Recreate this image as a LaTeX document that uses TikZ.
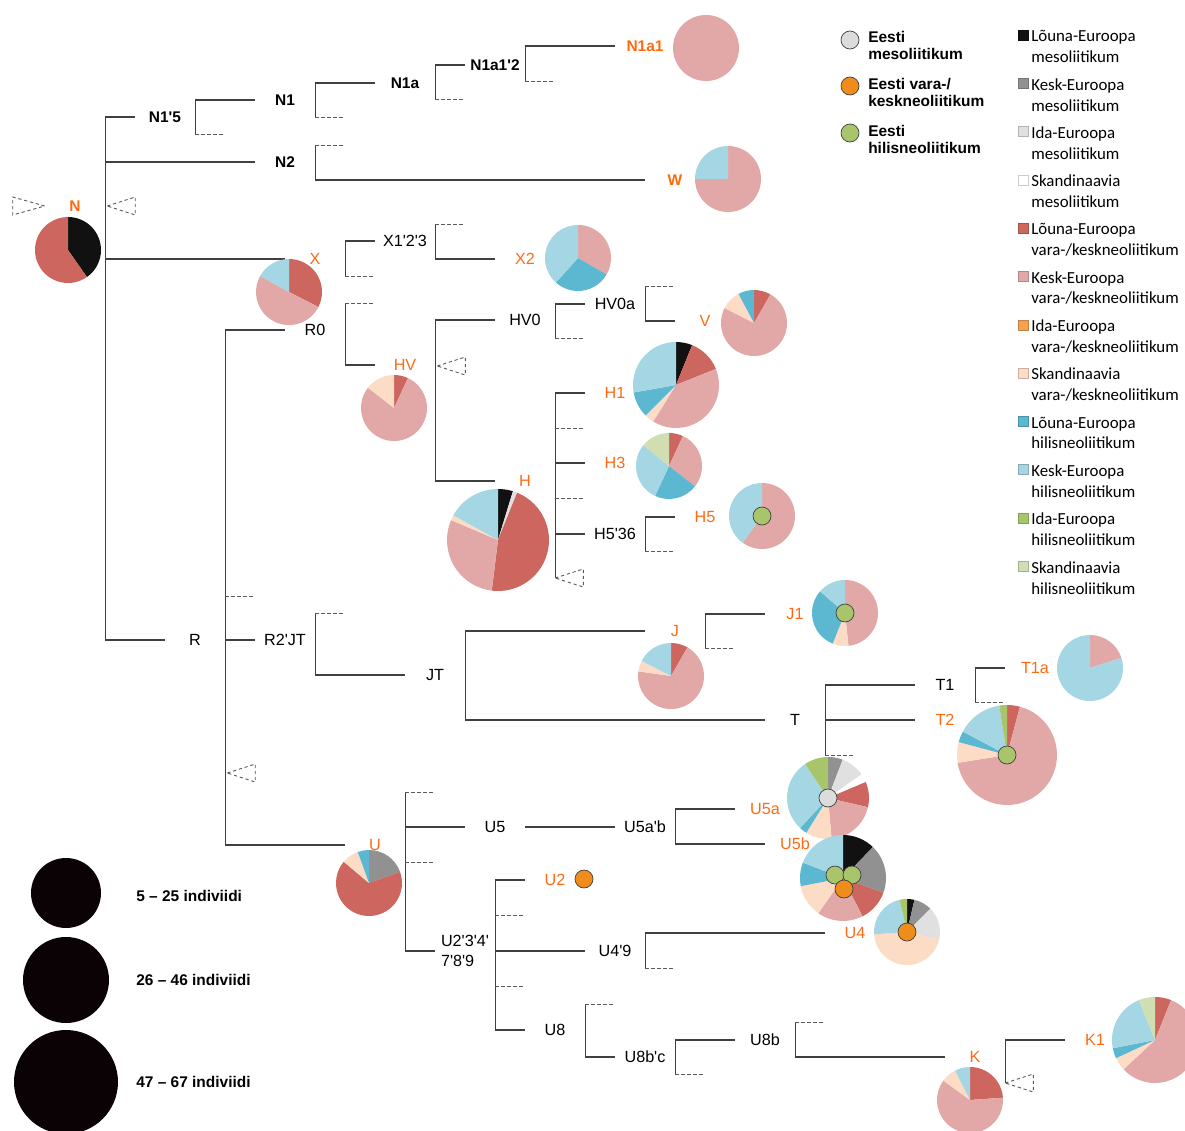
\documentclass[tikz,border=0pt]{standalone}
\usepackage{fontspec}
\newfontfamily\hgfont{Liberation Sans}
\newfontfamily\keyfont{Carlito}
\usetikzlibrary{calc}

\definecolor{cblack}{HTML}{111111}
\definecolor{cgray}{HTML}{919191}
\definecolor{clgray}{HTML}{E0E0E0}
\definecolor{cred}{HTML}{CC665F}
\definecolor{cpink}{HTML}{E2A8A7}
\definecolor{corange}{HTML}{F4A252}
\definecolor{cbeige}{HTML}{FCDCC4}
\definecolor{cdblue}{HTML}{5CB8D0}
\definecolor{clblue}{HTML}{A5D6E3}
\definecolor{cgreen}{HTML}{A9C56C}
\definecolor{csage}{HTML}{D0DEB1}
\definecolor{cmeso}{HTML}{DCDCDC}
\definecolor{cdotorange}{HTML}{F08C1C}
\definecolor{hgorange}{HTML}{FF6A10}
\definecolor{brgray}{HTML}{404040}
\definecolor{stubgray}{HTML}{5A5A5A}
\definecolor{sizeblack}{HTML}{0A0204}

\tikzset{
  hg/.style={minimum width=1.5cm, inner sep=0pt, text height=8pt, text depth=0pt,
    font=\hgfont\fontsize{11.5}{13}\selectfont},
  hgb/.style={hg, font=\hgfont\bfseries\fontsize{11}{13}\selectfont},
  hgo/.style={hg, text=hgorange},
  hgob/.style={hgb, text=hgorange},
  hgtwo/.style={minimum width=1.5cm, inner sep=0pt, align=left,
    font=\hgfont\fontsize{11.5}{14}\selectfont},
  br/.style={draw=brgray, line width=0.8pt},
  stub/.style={draw=stubgray, line width=0.65pt, dash pattern=on 2.3pt off 2pt},
  edot/.style={draw=black!75, line width=0.5pt},
  keytext/.style={anchor=west, align=left, inner sep=0pt,
    font=\keyfont\fontsize{12}{14.9}\selectfont},
  eesti/.style={anchor=west, align=left, inner sep=0pt,
    font=\hgfont\bfseries\fontsize{11}{12}\selectfont},
  sizetext/.style={anchor=west, inner sep=0pt,
    font=\hgfont\bfseries\fontsize{11}{13}\selectfont},
}

% pie: centre, radius, slices from/to/colour (clockwise, degrees)
\newcommand{\drawpie}[3]{%
  \foreach \pa/\pb/\pc in {#3}
    \fill[fill=\pc] (#1) -- ++({0-(\pa)}:#2)
      arc[start angle={0-(\pa)}, end angle={0-(\pb)}, radius=#2] -- cycle;%
}
\newcommand{\collapsed}[1]{\draw[stub] (#1) -- ++(28,-9) -- ++(0,18) -- cycle;}
\newcommand{\edot}[2]{\filldraw[edot, fill=#2] (#1) circle[radius=9];}

\begin{document}
\begin{tikzpicture}[x=0.025cm, y=-0.025cm]
  \useasboundingbox (0,0) rectangle (1185,1131);
  \clip (0,0) rectangle (1185,1131);

  % haplogroup labels
  \node[hgob] (N) at (75,206) {N};
  \node[hgb] (N15) at (165,117) {N1'5};
  \node[hgb] (N1) at (285,100) {N1};
  \node[hgb] (N1a) at (405,83) {N1a};
  \node[hgb] (N1a12) at (495,65) {N1a1'2};
  \node[hgob] (N1a1) at (645,46) {N1a1};
  \node[hgb] (N2) at (285,162) {N2};
  \node[hgob] (W) at (675,180) {W};
  \node[hgo] (X) at (315,259) {X};
  \node[hg] (X123) at (405,241) {X1'2'3};
  \node[hgo] (X2) at (525,259) {X2};
  \node[hg] (R) at (195,640) {R};
  \node[hg] (R0) at (315,330) {R0};
  \node[hgo] (HV) at (405,365) {HV};
  \node[hg] (HV0) at (525,320) {HV0};
  \node[hg] (HV0a) at (615,304) {HV0a};
  \node[hgo] (V) at (705,321) {V};
  \node[hgo] (H) at (525,481) {H};
  \node[hgo] (H1) at (615,393) {H1};
  \node[hgo] (H3) at (615,463) {H3};
  \node[hg] (H536) at (615,534) {H5'36};
  \node[hgo] (H5) at (705,517) {H5};
  \node[hg] (R2JT) at (285,640) {R2'JT};
  \node[hg] (JT) at (435,675) {JT};
  \node[hgo] (J) at (675,631) {J};
  \node[hgo] (J1) at (795,614) {J1};
  \node[hg] (T) at (795,720) {T};
  \node[hg] (T1) at (945,685) {T1};
  \node[hgo] (T1a) at (1035,668) {T1a};
  \node[hgo] (T2) at (945,720) {T2};
  \node[hgo] (U) at (375,845) {U};
  \node[hg] (U5) at (495,827) {U5};
  \node[hg] (U5ab) at (645,827) {U5a'b};
  \node[hgo] (U5a) at (765,809) {U5a};
  \node[hgo] (U5b) at (795,844) {U5b};
  \node[hgtwo] (U2x) at (465,951) {U2'3'4'\\7'8'9};
  \node[hgo] (U2) at (555,880) {U2};
  \node[hg] (U49) at (615,951) {U4'9};
  \node[hgo] (U4) at (855,933) {U4};
  \node[hg] (U8) at (555,1030) {U8};
  \node[hg] (U8bc) at (645,1057) {U8b'c};
  \node[hg] (U8b) at (765,1040) {U8b};
  \node[hgo] (K) at (975,1057) {K};
  \node[hgo] (K1) at (1095,1040) {K1};

  % N
  \draw[br] (N15.west) -| (N.east) |- (R.west);
  \draw[br] (N.east |- N2.west) -- (N2.west);
  \draw[br] (N.east |- X.west) -- (X.west);
  \collapsed{$(N.east)+(2,0)$}
  \draw[stub] (N.west) -- ++(-32,-9) -- ++(0,18) -- cycle;
  % N1'5
  \draw[br] (N1.west) -| (N15.east) -- ++(0,17) coordinate (N15s);
  \draw[stub] (N15s) -- ++(30,0);
  % N1
  \draw[br] (N1a.west) -| (N1.east) -- ++(0,17) coordinate (N1s);
  \draw[stub] (N1s) -- ++(30,0);
  % N1a
  \draw[br] (N1a12.west) -| (N1a.east) -- ++(0,16) coordinate (N1as);
  \draw[stub] (N1as) -- ++(30,0);
  % N1a1'2
  \draw[br] (N1a1.west) -| (N1a12.east) -- ++(0,16) coordinate (N1a12s);
  \draw[stub] (N1a12s) -- ++(30,0);
  % N2
  \draw[br] (W.west) -| (N2.east) -- ++(0,-17) coordinate (N2s);
  \draw[stub] (N2s) -- ++(30,0);
  % X
  \draw[br] (X123.west) -| (X.east) -- ++(0,17) coordinate (Xs);
  \draw[stub] (Xs) -- ++(30,0);
  % X1'2'3
  \draw[br] (X2.west) -| (X123.east) -- ++(0,-17) coordinate (X123s);
  \draw[stub] (X123s) -- ++(30,0);
  % R
  \draw[br] (R0.west) -| (R.east) |- (U.west);
  \draw[br] (R.east) -- (R2JT.west);
  \draw[stub] ($(R.east)+(0,-44)$) -- ++(30,0);
  \collapsed{$(R.east)+(2,133)$}
  % R0
  \draw[br] (HV.west) -| (R0.east) -- ++(0,-27) coordinate (R0s);
  \draw[stub] (R0s) -- ++(30,0);
  % HV
  \draw[br] (HV0.west) -| (HV.east) |- (H.west);
  \collapsed{$(HV.east)+(2,1)$}
  % HV0
  \draw[br] (HV0a.west) -| (HV0.east) -- ++(0,18) coordinate (HV0s);
  \draw[stub] (HV0s) -- ++(30,0);
  % HV0a
  \draw[br] (V.west) -| (HV0a.east) -- ++(0,-18) coordinate (HV0as);
  \draw[stub] (HV0as) -- ++(30,0);
  % H
  \draw[br] (H1.west) -| (H.east) -- ++(0,97) coordinate (Ht);
  \draw[br] (H.east |- H3.west) -- (H3.west);
  \draw[br] (H.east |- H536.west) -- (H536.west);
  \draw[stub] ($(H.east)+(0,-53)$) -- ++(30,0);
  \draw[stub] ($(H.east)+(0,17)$) -- ++(30,0);
  \collapsed{Ht}
  % H5'36
  \draw[br] (H5.west) -| (H536.east) -- ++(0,17) coordinate (H536s);
  \draw[stub] (H536s) -- ++(30,0);
  % R2'JT
  \draw[br] (JT.west) -| (R2JT.east) -- ++(0,-27) coordinate (R2JTs);
  \draw[stub] (R2JTs) -- ++(30,0);
  % JT
  \draw[br] (J.west) -| (JT.east) |- (T.west);
  % J
  \draw[br] (J1.west) -| (J.east) -- ++(0,17) coordinate (Js);
  \draw[stub] (Js) -- ++(30,0);
  % T
  \draw[br] (T1.west) -| (T.east) -- ++(0,35) coordinate (Ts);
  \draw[br] (T.east) -- (T2.west);
  \draw[stub] (Ts) -- ++(30,0);
  % T1
  \draw[br] (T1a.west) -| (T1.east) -- ++(0,17) coordinate (T1s);
  \draw[stub] (T1s) -- ++(30,0);
  % U
  \draw[br] ($(U.east)+(0,-53)$) coordinate (Us) |- (U2x.west);
  \draw[br] (U.east |- U5.west) -- (U5.west);
  \draw[stub] (Us) -- ++(30,0);
  \draw[stub] ($(U.east)+(0,17)$) -- ++(30,0);
  % U5
  \draw[br] (U5.east) -- (U5ab.west);
  % U5a'b
  \draw[br] (U5a.west) -| (U5ab.east) |- (U5b.west);
  % U2'3'4'7'8'9
  \draw[br] (U2.west) -| (U2x.east) |- (U8.west);
  \draw[br] (U2x.east) -- (U49.west);
  \draw[stub] ($(U2x.east)+(0,-36)$) -- ++(30,0);
  \draw[stub] ($(U2x.east)+(0,35)$) -- ++(30,0);
  % U4'9
  \draw[br] (U4.west) -| (U49.east) -- ++(0,17) coordinate (U49s);
  \draw[stub] (U49s) -- ++(30,0);
  % U8
  \draw[br] (U8bc.west) -| (U8.east) -- ++(0,-26) coordinate (U8s);
  \draw[stub] (U8s) -- ++(30,0);
  % U8b'c
  \draw[br] (U8b.west) -| (U8bc.east) -- ++(0,17) coordinate (U8bcs);
  \draw[stub] (U8bcs) -- ++(30,0);
  % U8b
  \draw[br] (K.west) -| (U8b.east) -- ++(0,-18) coordinate (U8bs);
  \draw[stub] (U8bs) -- ++(30,0);
  % K
  \draw[br] (K1.west) -| (K.east) -- ++(0,26) coordinate (Kt);
  \collapsed{Kt}

  % pies
  \drawpie{68,250}{33}{90/-55/cblack, -55/-270/cred}
  \fill[cpink] (706,48) circle[radius=33];
  \drawpie{728,179}{33}{90/-180/cpink, -180/-270/clblue}
  \drawpie{289,292}{33}{90/-27/cred, -27/-209/cpink, -209/-270/clblue}
  \drawpie{578,258}{33}{90/-30/cpink, -30/-132/cdblue, -132/-270/clblue}
  \drawpie{394,408}{33}{90/65/cred, 65/-218/cpink, -218/-270/cbeige}
  \drawpie{754,323}{33}{90/60/cred, 60/-207/cpink, -207/-242/cbeige, -242/-270/cdblue}
  \drawpie{498,540}{51}{90/73/cblack, 73/68/clgray, 68/-97/cred, -97/-203/cpink, -203/-209/cbeige, -209/-270/clblue}
  \drawpie{676,385}{43}{90/68/cblack, 68/22/cred, 22/-122/cpink, -122/-135/cbeige, -135/-170/cdblue, -170/-270/clblue}
  \drawpie{669,466}{33}{90/65/cred, 65/-38/cpink, -38/-115/cdblue, -115/-219/clblue, -219/-270/csage}
  \drawpie{762,516}{33}{90/-126/cpink, -126/-270/clblue}
  \edot{762,516}{cgreen}
  \drawpie{671,676}{33}{90/60/cred, 60/-188/cpink, -188/-207/cbeige, -207/-270/clblue}
  \drawpie{845,613}{33}{90/-84/cpink, -84/-112/cbeige, -112/-221/cdblue, -221/-270/clblue}
  \edot{845,613}{cgreen}
  \drawpie{1090,668}{33}{90/18/cpink, 18/-270/clblue}
  \drawpie{1007,755}{50}{90/75/cred, 75/-171/cpink, -171/-195/cbeige, -195/-208/cdblue, -208/-261/clblue, -261/-270/cgreen}
  \edot{1007,755}{cgreen}
  \drawpie{369,883}{33}{90/20/cgray, 20/-220/cred, -220/-250/cbeige, -250/-270/cdblue}
  \drawpie{828,798}{41}{90/69/cgray, 69/35/clgray, 35/23/white, 23/-13/cred, -13/-85/cpink, -85/-122/cbeige, -122/-133/cdblue, -133/-236/clblue, -236/-270/cgreen}
  \edot{828,798}{cmeso}
  \drawpie{843,878}{43}{90/46/cblack, 46/-20/cgray, -20/-63/cred, -63/-125/cpink, -125/-169/cbeige, -169/-201/cdblue, -201/-270/clblue}
  \edot{835,875}{cgreen}
  \edot{852,875}{cgreen}
  \edot{844,889}{cdotorange}
  \drawpie{907,932}{33}{90/77/cblack, 77/45/cgray, 45/-13/clgray, -13/-176/cbeige, -176/-257/clblue, -257/-270/cgreen}
  \edot{907,932}{cdotorange}
  \drawpie{970,1100}{33}{90/4/cred, 4/-216/cpink, -216/-243/cbeige, -243/-270/clblue}
  \drawpie{1155,1040}{43}{90/68/cred, 68/-137/cpink, -137/-155/cbeige, -155/-169/cdblue, -169/-248/clblue, -248/-270/csage}
  \edot{584,879}{cdotorange}

  % Eesti legend
  \edot{850,40}{cmeso}
  \node[eesti] (eesti1) at (868,45.5) {Eesti\\mesoliitikum};
  \edot{850,86}{cdotorange}
  \node[eesti] (eesti2) at (868,92.5) {Eesti vara-/\\keskneoliitikum};
  \edot{850,133}{cgreen}
  \node[eesti] (eesti3) at (868,139.5) {Eesti\\hilisneoliitikum};

  % region legend
  \foreach \col/\reg/\per [count=\i from 0] in {
      cblack/Lõuna-Euroopa/mesoliitikum,
      cgray/Kesk-Euroopa/mesoliitikum,
      clgray/Ida-Euroopa/mesoliitikum,
      white/Skandinaavia/mesoliitikum,
      cred/Lõuna-Euroopa/{vara-/keskneoliitikum},
      cpink/Kesk-Euroopa/{vara-/keskneoliitikum},
      corange/Ida-Euroopa/{vara-/keskneoliitikum},
      cbeige/Skandinaavia/{vara-/keskneoliitikum},
      cdblue/Lõuna-Euroopa/hilisneoliitikum,
      clblue/Kesk-Euroopa/hilisneoliitikum,
      cgreen/Ida-Euroopa/hilisneoliitikum,
      csage/Skandinaavia/hilisneoliitikum} {
    \filldraw[fill=\col, draw=\col!80!black, line width=0.3pt]
      (1018,{30+48.3*\i}) rectangle ++(10,10);
    \node[keytext] (key\i) at (1031,{46.5+48.3*\i}) {\reg\\\per};
  }

  % size legend
  \fill[sizeblack] (66,893) circle[radius=35];
  \fill[sizeblack] (66,980) circle[radius=43];
  \fill[sizeblack] (66,1082) circle[radius=52];
  \node[sizetext] (size1) at (136,896) {5 – 25 indiviidi};
  \node[sizetext] (size2) at (136,980) {26 – 46 indiviidi};
  \node[sizetext] (size3) at (136,1082) {47 – 67 indiviidi};
\end{tikzpicture}
\end{document}
